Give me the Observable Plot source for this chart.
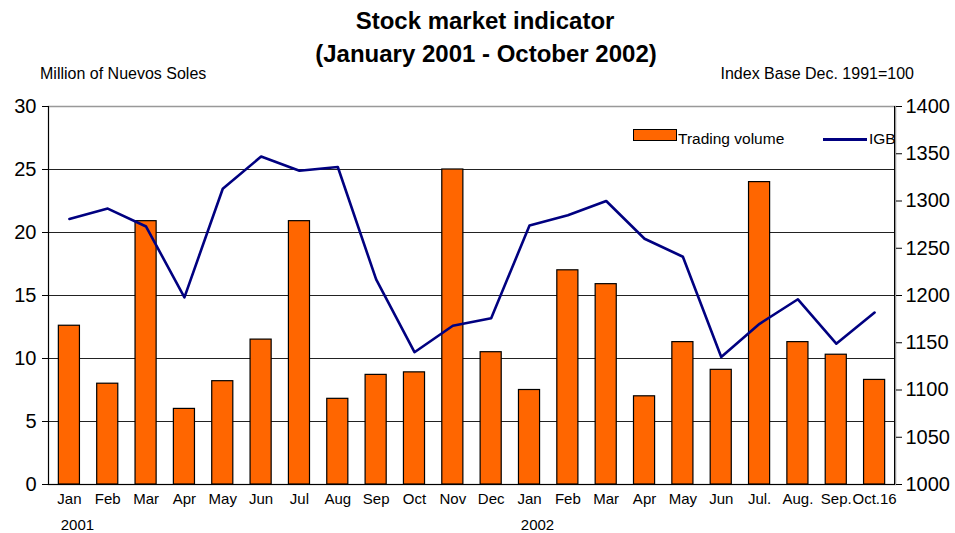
<!DOCTYPE html>
<html>
<head>
<meta charset="utf-8">
<script src="https://cdn.jsdelivr.net/npm/d3@7"></script>
<script src="https://cdn.jsdelivr.net/npm/@observablehq/plot@0.6"></script>
<style>
  html, body { margin: 0; padding: 0; background: #fff; }
  #wrap { position: relative; width: 955px; height: 533px; font-family: "Liberation Sans", Arial, sans-serif; color: #000; }
  .t { position: absolute; white-space: nowrap; line-height: 1; }
  #chart { position: absolute; left: 0; top: 0; }
</style>
</head>
<body>
<div id="wrap">
  <div id="chart"></div>
  <div class="t" style="left:0;width:970px;text-align:center;top:9px;font-size:24px;font-weight:bold;">Stock market indicator</div>
  <div class="t" style="left:0;width:972px;text-align:center;top:42px;font-size:24px;font-weight:bold;">(January 2001 - October 2002)</div>
  <div class="t" style="left:40px;top:66px;font-size:16px;">Million of Nuevos Soles</div>
  <div class="t" style="right:41px;top:66px;font-size:16px;">Index Base Dec. 1991=100</div>
  <div style="position:absolute;left:633px;top:129px;width:42px;height:10px;background:#FF6600;border:1px solid #000;"></div>
  <div class="t" style="left:678px;top:131px;font-size:15.5px;">Trading volume</div>
  <div style="position:absolute;left:823px;top:138px;width:44px;height:3px;background:#000080;"></div>
  <div class="t" style="left:869px;top:131px;font-size:15.5px;">IGB</div>
</div>
<script>
// Category labels (x axis)
const months = ["Jan","Feb","Mar","Apr","May","Jun","Jul","Aug","Sep","Oct","Nov","Dec",
                "Jan","Feb","Mar","Apr","May","Jun","Jul.","Aug.","Sep.","Oct.16"];
// Trading volume, million of Nuevos Soles (left axis)
const volume = [12.6, 8.0, 20.9, 6.0, 8.2, 11.5, 20.9, 6.8, 8.7, 8.9, 25.0, 10.5,
                7.5, 17.0, 15.9, 7.0, 11.3, 9.1, 24.0, 11.3, 10.3, 8.3];
// IGB index, base Dec. 1991=100 (right axis)
const igb = [1281, 1292, 1273, 1198, 1313, 1347, 1332, 1336, 1217, 1140, 1168, 1176,
             1274, 1285, 1300, 1260, 1241, 1135, 1170, 1196, 1149, 1182];
// Year labels
const years = [{i: 0, label: "2001"}, {i: 12, label: "2002"}];
// Axis ticks
const leftTicks = [0, 5, 10, 15, 20, 25, 30];
const rightTicks = [1000, 1050, 1100, 1150, 1200, 1250, 1300, 1350, 1400];
const gridTicks = [5, 10, 15, 20, 25];

const leftMax = 30, rMin = 1000, rMax = 1400;
const toLeft = v => (v - rMin) / (rMax - rMin) * leftMax;
const toRight = v => rMin + v / leftMax * (rMax - rMin);

const data = months.map((m, i) => ({i, m, volume: volume[i], igb: igb[i], igbL: toLeft(igb[i])}));

// vertical axis lines on both sides of the frame
function axisLines(index, scales, values, dimensions) {
  const {width, height, marginLeft, marginRight, marginTop, marginBottom} = dimensions;
  const g = d3.create("svg:g").attr("stroke", "#000").attr("stroke-width", 1);
  g.append("line").attr("x1", marginLeft + 0.5).attr("x2", marginLeft + 0.5)
    .attr("y1", marginTop).attr("y2", height - marginBottom);
  g.append("line").attr("x1", width - marginRight - 0.5).attr("x2", width - marginRight - 0.5)
    .attr("y1", marginTop).attr("y2", height - marginBottom);
  return g.node();
}

const chart = Plot.plot({
  width: 955,
  height: 533,
  marginTop: 106,
  marginBottom: 49,
  marginLeft: 48,
  marginRight: 60,
  style: {fontFamily: '"Liberation Sans", Arial, sans-serif', background: "transparent", color: "#000"},
  x: {type: "band", domain: d3.range(months.length), paddingInner: 0.45, paddingOuter: 0.27, align: 0.5, round: false},
  y: {domain: [0, leftMax]},
  marks: [
    Plot.frame({stroke: "#999", strokeWidth: 1.5}),
    Plot.ruleY(gridTicks, {stroke: "#222", strokeWidth: 1}),
    Plot.barY(data, {x: "i", y: "volume", fill: "#FF6600", stroke: "#000", strokeWidth: 1.2}),
    Plot.line(data, {x: "i", y: "igbL", stroke: "#000080", strokeWidth: 2.6}),
    axisLines,
    Plot.axisY({anchor: "left", ticks: leftTicks, tickSize: 6, tickPadding: 6, fontSize: 20, label: null, stroke: "#000"}),
    Plot.axisY({anchor: "right", ticks: rightTicks.map(toLeft), tickFormat: d => String(Math.round(toRight(d))), tickSize: 6, tickPadding: 4, fontSize: 20, label: null}),
    Plot.axisX({ticks: d3.range(months.length), tickFormat: i => months[i], tickSize: 0, tickPadding: 9, fontSize: 15, label: null}),
    Plot.ruleY([0], {stroke: "#000"}),
    Plot.text(years, {x: "i", text: "label", frameAnchor: "bottom", dy: 45, dx: 8, fontSize: 15})
  ]
});
document.getElementById("chart").appendChild(chart);
</script>
</body>
</html>
